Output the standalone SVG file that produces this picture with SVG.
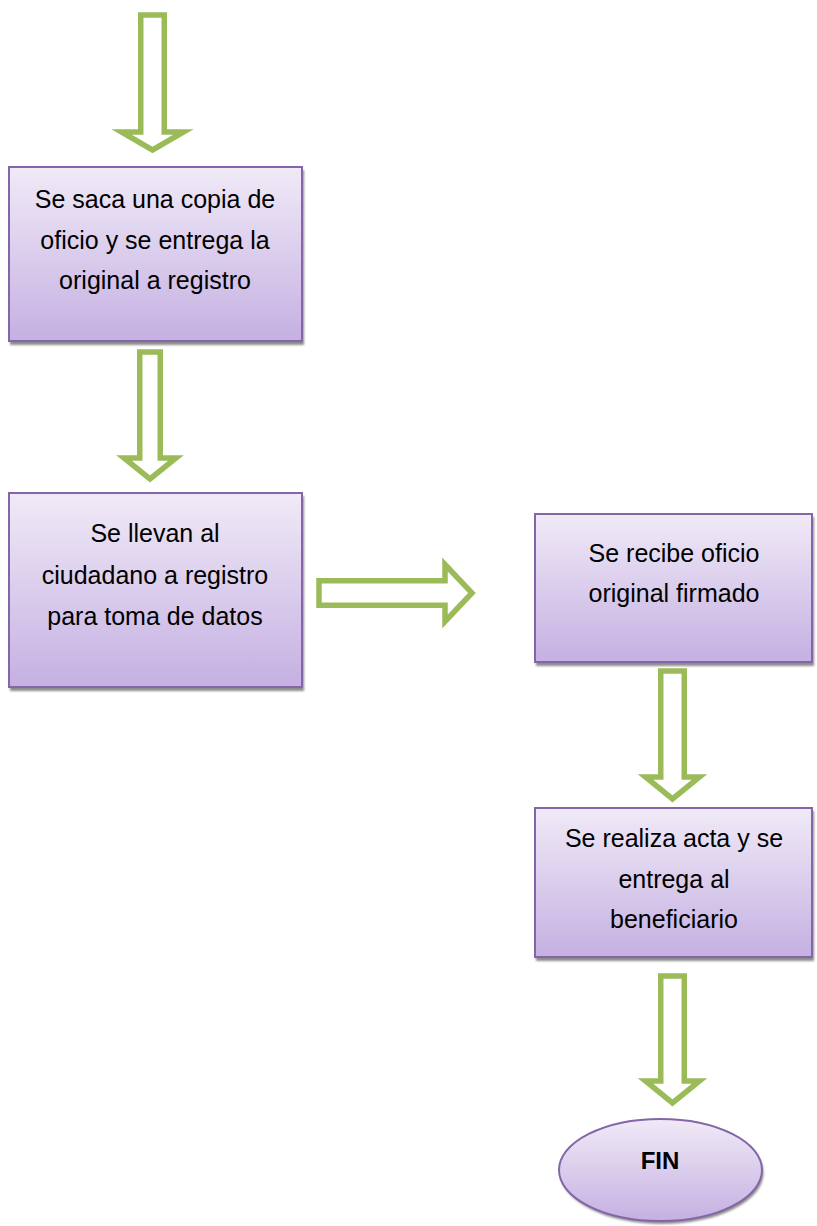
<svg xmlns="http://www.w3.org/2000/svg" width="817" height="1226" viewBox="0 0 817 1226">
<defs>
<linearGradient id="g" x1="0" y1="0" x2="0" y2="1">
<stop offset="0" stop-color="#f0eaf7"/>
<stop offset="1" stop-color="#c5b0e2"/>
</linearGradient>
<filter id="sh" x="-10%" y="-10%" width="120%" height="130%">
<feGaussianBlur stdDeviation="0.8"/>
</filter>
</defs>
<style>
.box{fill:url(#g);stroke:#8466a8;stroke-width:2}
.shadow{fill:#8c8c8c;filter:url(#sh)}
.arrow{fill:#ffffff;stroke:#9bbb59;stroke-width:5.5;stroke-linejoin:miter}
.t{font-family:"Liberation Sans",Arial,sans-serif;font-size:25px;fill:#000;text-anchor:middle}
.b{font-weight:bold;font-size:24px}
</style>
<rect width="817" height="1226" fill="#ffffff"/>
<g id="connectors">
<path class="arrow" d="M140.75,15 H164.25 V132 H183.5 L152.5,150 L121.5,132 H140.75 Z"/>
<path class="arrow" d="M139.75,352 H160.25 V458 H176 L150,479 L124,458 H139.75 Z"/>
<path class="arrow" d="M319,580.75 H445 V564.5 L472,593 L445,621.5 V605.25 H319 Z"/>
<path class="arrow" d="M660.75,671 H684.25 V777 H699.5 L672.5,799 L645.5,777 H660.75 Z"/>
<path class="arrow" d="M660.75,976 H684.25 V1081 H699.5 L672.5,1103 L645.5,1081 H660.75 Z"/>
</g>
<g id="node1">
<rect class="shadow" x="10" y="170" width="294" height="175"/>
<rect class="box" x="9" y="167" width="293" height="174"/>
<text class="t" x="155" y="208">Se saca una copia de</text>
<text class="t" x="155" y="249">oficio y se entrega la</text>
<text class="t" x="155" y="289">original a registro</text>
</g>
<g id="node2">
<rect class="shadow" x="10" y="496" width="294" height="195"/>
<rect class="box" x="9" y="493" width="293" height="194"/>
<text class="t" x="155" y="542">Se llevan al</text>
<text class="t" x="155" y="584">ciudadano a registro</text>
<text class="t" x="155" y="625">para toma de datos</text>
</g>
<g id="node3">
<rect class="shadow" x="536" y="517" width="278" height="149"/>
<rect class="box" x="535" y="514" width="277" height="148"/>
<text class="t" x="674" y="562">Se recibe oficio</text>
<text class="t" x="674" y="602">original firmado</text>
</g>
<g id="node4">
<rect class="shadow" x="536" y="811" width="278" height="150"/>
<rect class="box" x="535" y="808" width="277" height="149"/>
<text class="t" x="674" y="847">Se realiza acta y se</text>
<text class="t" x="674" y="888">entrega al</text>
<text class="t" x="674" y="928">beneficiario</text>
</g>
<g id="fin">
<ellipse class="shadow" cx="662" cy="1173" rx="101.5" ry="51"/>
<ellipse class="box" cx="660.5" cy="1170" rx="101.5" ry="51"/>
<text class="t b" x="660" y="1169">FIN</text>
</g>
</svg>
